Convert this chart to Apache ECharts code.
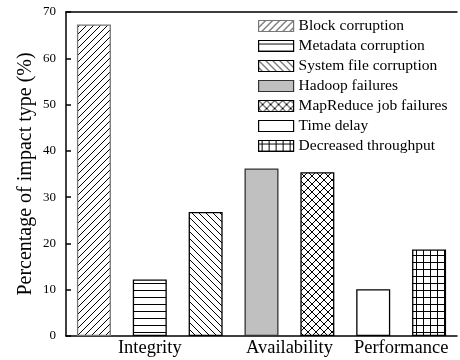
<!DOCTYPE html>
<html>
<head>
<meta charset="utf-8">
<script src="https://cdn.jsdelivr.net/npm/echarts@6/dist/echarts.min.js"></script>
<style>html,body{margin:0;padding:0;background:#fff;}#c{width:460px;height:360px;}</style>
</head>
<body>
<div id="c"></div>
<script>
// ---- data ----
var seriesNames = ['Block corruption', 'Metadata corruption', 'System file corruption', 'Hadoop failures', 'MapReduce job failures', 'Time delay', 'Decreased throughput'];
var seriesValues = [67.3, 12.2, 26.8, 36.2, 35.4, 10.1, 18.7];
var groupNames = ['Integrity', 'Availability', 'Performance'];
var groupSizes = [3, 2, 2];
var yTicks = [0, 10, 20, 30, 40, 50, 60, 70];

// ---- patterns ----
function tile(s, draw) {
  var c = document.createElement('canvas');
  c.width = s; c.height = s;
  var ctx = c.getContext('2d');
  ctx.fillStyle = '#fff'; ctx.fillRect(0, 0, s, s);
  ctx.fillStyle = '#000';
  draw(ctx, s);
  return { image: c, repeat: 'repeat' };
}
function fwd(ctx, s) { for (var i = 0; i < s; i++) ctx.fillRect(i, s - 1 - i, 1, 1); }
function bwd(ctx, s) { for (var i = 0; i < s; i++) ctx.fillRect(i, i, 1, 1); }
function hline(ctx, s) { ctx.fillRect(0, 3, s, 1); }
function vline(ctx, s) { ctx.fillRect(3, 0, 1, s); }
var fills = [
  tile(7, fwd),
  tile(7, hline),
  tile(7, bwd),
  '#c0c0c0',
  tile(8, function (ctx, s) { fwd(ctx, s); bwd(ctx, s); }),
  '#ffffff',
  tile(7, function (ctx, s) { hline(ctx, s); vline(ctx, s); })
];
var borders = ['#777777', '#000000', '#000000', '#333333', '#000000', '#000000', '#000000'];

var groupCenters = {};
var pos = 0;
groupNames.forEach(function (g, i) {
  var c = pos + (groupSizes[i] + 1) / 2;
  groupCenters[c.toFixed(1)] = g;
  pos += groupSizes[i];
});

var serif = 'Liberation Serif';
var series = seriesNames.map(function (n, i) {
  return {
    name: n,
    type: 'bar',
    xAxisIndex: 0,
    yAxisIndex: 0,
    barWidth: 34,
    barGap: '-100%',
    data: seriesValues.map(function (v, j) { return j === i ? v : null; }),
    itemStyle: { color: fills[i], borderColor: borders[i], borderWidth: 1.3 }
  };
});

var yMin = yTicks[0], yMax = yTicks[yTicks.length - 1], yStep = yTicks[1] - yTicks[0];

var chart = echarts.init(document.getElementById('c'), null, { renderer: 'canvas' });
chart.setOption({
  animation: false,
  backgroundColor: '#fff',
  grid: { left: 66, right: -3, top: 12, bottom: 24, containLabel: false },
  legend: {
    orient: 'vertical',
    left: 258,
    top: 18,
    padding: 0,
    icon: 'rect',
    itemWidth: 35,
    itemHeight: 11,
    itemGap: 4,
    data: seriesNames.map(function (n, i) {
      return { name: n, itemStyle: { color: fills[i], borderColor: borders[i], borderWidth: 1.2 } };
    }),
    textStyle: { fontFamily: serif, fontSize: 15.5, color: '#000', lineHeight: 16 }
  },
  xAxis: [
    {
      type: 'category',
      position: 'bottom',
      data: seriesNames,
      axisLine: { lineStyle: { color: '#000', width: 1.5 } },
      axisTick: { show: false },
      axisLabel: { show: false }
    },
    {
      type: 'value',
      position: 'bottom',
      min: 0.5,
      max: seriesNames.length + 0.5,
      interval: 0.5,
      axisLine: { show: false },
      axisTick: { show: false },
      splitLine: { show: false },
      axisLabel: {
        margin: 3,
        fontFamily: serif,
        fontSize: 18.5,
        color: '#000',
        showMinLabel: true,
        showMaxLabel: true,
        formatter: function (v) { return groupCenters[Number(v).toFixed(1)] || ''; }
      }
    },
    {
      type: 'category',
      position: 'top',
      data: seriesNames,
      axisLine: { lineStyle: { color: '#000', width: 1.5 } },
      axisTick: { inside: true, length: 3, alignWithLabel: true, lineStyle: { color: '#999' } },
      axisLabel: { show: false }
    }
  ],
  yAxis: {
    type: 'value',
    position: 'left',
    min: yMin,
    max: yMax,
    interval: yStep,
    name: 'Percentage of impact type (%)',
    nameLocation: 'middle',
    nameGap: 30,
    nameMoveOverlap: false,
    nameTextStyle: { fontFamily: serif, fontSize: 20, color: '#000' },
    axisLine: { show: true, onZero: false, lineStyle: { color: '#000', width: 1.5 } },
    axisTick: { show: true, inside: true, length: 5, lineStyle: { color: '#000', width: 1.5 } },
    splitLine: { show: false },
    axisLabel: { margin: 10, fontFamily: serif, fontSize: 13, color: '#000' }
  },
  series: series
});
</script>
</body>
</html>
